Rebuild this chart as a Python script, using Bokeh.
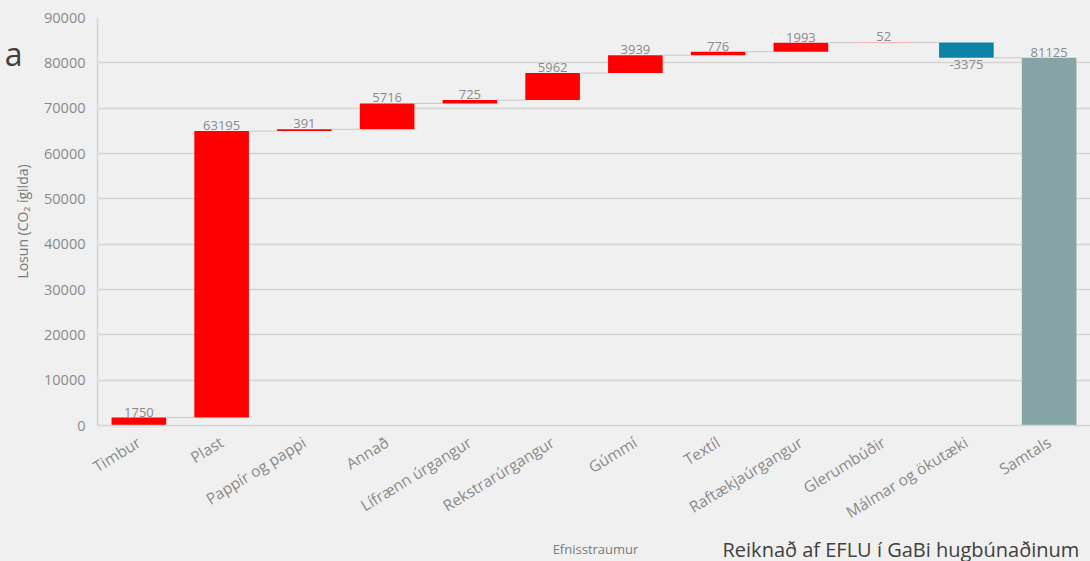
from bokeh.plotting import figure
from bokeh.layouts import column
from bokeh.models import (ColumnDataSource, FactorRange, Range1d, FixedTicker, LinearAxis)
from bokeh.transform import dodge
from bokeh.core.properties import value
from bokeh.embed import file_html
from bokeh.resources import INLINE

# ---- data ----
categories = ["Timbur", "Plast", "Pappír og pappi", "Annað", "Lífrænn úrgangur",
              "Rekstrarúrgangur", "Gúmmí", "Textíl", "Raftækjaúrgangur",
              "Glerumbúðir", "Málmar og ökutæki"]
changes = [1750, 63195, 391, 5716, 725, 5962, 3939, 776, 1993, 52, -3375]
total_category = "Samtals"
total_value = 81125
y_ticks = [0, 10000, 20000, 30000, 40000, 50000, 60000, 70000, 80000, 90000]

# ---- styles ----
BG = "#f0f0f0"
RED = "#ff0000"
BLUE = "#0a83a7"
TOTAL = "#86a4a6"
GRID = "#d4d4d4"
TXT = "#8a8a8a"
FONT = "Open Sans"

all_cats = categories + [total_category]

# waterfall geometry derived from values
starts, ends = [], []
run = 0
for c in changes:
    starts.append(run)
    run += c
    ends.append(run)

bottoms = [min(s, e) for s, e in zip(starts, ends)] + [0]
tops = [max(s, e) for s, e in zip(starts, ends)] + [total_value]
colors = [RED if c >= 0 else BLUE for c in changes] + [TOTAL]

bars = ColumnDataSource(dict(x=all_cats, bottom=bottoms, top=tops, color=colors))

W = 1090
H_MAIN = 536
H_FOOT = 25
FRAME_LEFT = 97
p = figure(x_range=FactorRange(*all_cats), y_range=Range1d(0, 90000),
           width=W, height=H_MAIN, output_backend="svg", toolbar_location=None,
           min_border_left=FRAME_LEFT, min_border_right=0, min_border_top=17,
           min_border_bottom=111)

p.background_fill_color = BG
p.border_fill_color = BG
p.outline_line_color = None

p.vbar(x="x", bottom="bottom", top="top", width=0.66, fill_color="color",
       line_color=None, source=bars)

# connectors
conn = ColumnDataSource(dict(x0=all_cats[:-1], x1=all_cats[1:], y=ends))
p.segment(x0=dodge("x0", 0.33, range=p.x_range), x1=dodge("x1", -0.33, range=p.x_range),
          y0="y", y1="y", line_color="#c8c8c8", line_width=1, source=conn)

# data labels
pos_x = [c for c, v in zip(categories, changes) if v >= 0] + [total_category]
pos_y = [max(s, e) for s, e, v in zip(starts, ends, changes) if v >= 0] + [total_value]
pos_t = [str(v) for v in changes if v >= 0] + [str(total_value)]
neg_x = [c for c, v in zip(categories, changes) if v < 0]
neg_y = [min(s, e) for s, e, v in zip(starts, ends, changes) if v < 0]
neg_t = [str(v) for v in changes if v < 0]

p.text(x="x", y="y", text="t", source=ColumnDataSource(dict(x=pos_x, y=pos_y, t=pos_t)),
       text_align="center", text_baseline="bottom", y_offset=-1,
       text_font=value(FONT), text_font_size="13px", text_color=TXT)
p.text(x="x", y="y", text="t", source=ColumnDataSource(dict(x=neg_x, y=neg_y, t=neg_t)),
       text_align="center", text_baseline="top", y_offset=2,
       text_font=value(FONT), text_font_size="13px", text_color=TXT)

# axes
p.xgrid.grid_line_color = None
p.ygrid.ticker = FixedTicker(ticks=y_ticks)
p.ygrid.grid_line_color = GRID
p.ygrid.grid_line_width = 1.5

p.yaxis.ticker = FixedTicker(ticks=y_ticks)
p.yaxis.axis_line_color = GRID
p.yaxis.axis_line_width = 1.5
p.yaxis.major_tick_line_color = None
p.yaxis.minor_tick_line_color = None
p.yaxis.major_label_standoff = 6
p.yaxis.major_label_text_font = FONT
p.yaxis.major_label_text_font_size = "14.5px"
p.yaxis.major_label_text_color = TXT
p.yaxis.axis_label = "Losun (CO₂ ígilda)"
p.yaxis.axis_label_text_font = FONT
p.yaxis.axis_label_text_font_size = "14px"
p.yaxis.axis_label_text_font_style = "normal"
p.yaxis.axis_label_text_color = "#7a7a7a"
p.yaxis.axis_label_standoff = 9

# cut-off fragment of a heading at the top-left of the picture
a_axis = LinearAxis(ticker=FixedTicker(ticks=[82000]), major_label_overrides={82000: "a"},
                    axis_line_color=None, major_tick_line_color=None,
                    minor_tick_line_color=None, major_label_standoff=-18,
                    major_label_text_font=FONT, major_label_text_font_size="32px",
                    major_label_text_color="#404040")
p.add_layout(a_axis, "left")

p.xaxis.axis_line_color = GRID
p.xaxis.axis_line_width = 1.5
p.xaxis.major_tick_line_color = None
p.xaxis.minor_tick_line_color = None
p.xaxis.major_label_orientation = 0.55
p.xaxis.major_label_standoff = 9
p.xaxis.major_label_text_font = FONT
p.xaxis.major_label_text_font_size = "15.5px"
p.xaxis.major_label_text_color = TXT

# footer row (frame aligned with the main frame): axis title and source note
foot = figure(width=W, height=H_FOOT, x_range=Range1d(FRAME_LEFT, W), y_range=Range1d(0, H_FOOT),
              output_backend="svg", toolbar_location=None, x_axis_type=None, y_axis_type=None,
              min_border=0)
foot.background_fill_color = BG
foot.border_fill_color = BG
foot.outline_line_color = None
foot.xgrid.visible = False
foot.ygrid.visible = False
foot.text(x=[595], y=[13], text=["Efnisstraumur"], text_align="center",
          text_baseline="middle", text_font=value(FONT), text_font_size="13px",
          text_color="#7a7a7a")
foot.text(x=[722], y=[12.5], text=["Reiknað af EFLU í GaBi hugbúnaðinum"], text_align="left",
          text_baseline="middle", text_font=value(FONT), text_font_size="20px",
          text_color="#404040")

layout = column(p, foot, spacing=0)

html = file_html(layout, INLINE)
html = html.replace("<head>", "<head><style>html,body{background:#f0f0f0;}</style>", 1)
open("out.html", "w").write(html)
